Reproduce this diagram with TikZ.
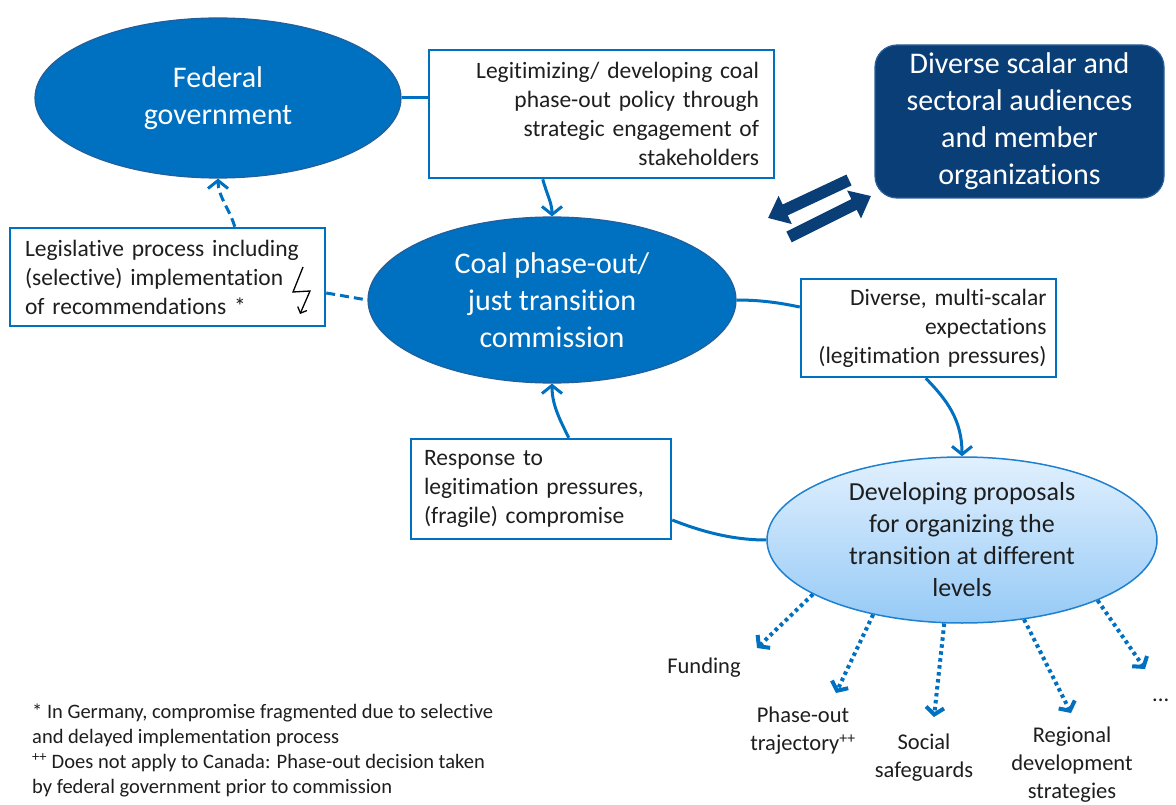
\documentclass[tikz,border=0pt]{standalone}
\usepackage{fontspec}
\setmainfont{Carlito}[RawFeature={-liga;-clig;-calt;-rlig;-dlig;-ccmp}]
\usetikzlibrary{arrows.meta,shapes.geometric,calc}
\definecolor{mblue}{RGB}{0,112,192}
\definecolor{eborder}{RGB}{35,95,155}
\definecolor{dblue}{RGB}{10,62,118}
\definecolor{dborder}{RGB}{45,95,155}
\definecolor{ltop}{RGB}{225,240,254}
\definecolor{lbot}{RGB}{150,202,246}
\definecolor{devline}{RGB}{30,128,208}
\definecolor{txt}{RGB}{30,30,30}
\newcommand\boxfont{\fontsize{23.5}{29}\selectfont}
\newcommand\ellfont{\fontsize{30}{37}\selectfont}
\newcommand\devfont{\fontsize{26}{32}\selectfont}
\newcommand\labfont{\fontsize{22.5}{28}\selectfont}
\newcommand\notefont{\fontsize{20.5}{25}\selectfont}
\begin{document}
\begin{tikzpicture}[x=1pt,y=-1pt,
  ell/.style={ellipse, fill=mblue, draw=eborder, line width=1.2pt, text=white, align=center, inner sep=0pt, font=\ellfont},
  tbox/.style={rectangle, draw=mblue, line width=2.5pt, fill=white, text=txt, inner ysep=0pt, font=\boxfont},
  darkbox/.style={rectangle, rounded corners=22pt, fill=dblue, draw=dborder, line width=1.2pt, text=white, align=center, inner sep=0pt, font=\ellfont},
  devell/.style={ellipse, top color=ltop, bottom color=lbot, draw=devline, line width=1.5pt, text=txt, align=center, inner sep=0pt, font=\devfont},
  lab/.style={text=txt, align=center, inner sep=0pt, font=\labfont},
  conn/.style={draw=mblue, line width=3pt},
  tip/.style={-{Straight Barb[length=8pt,width=20pt]}},
  dashpat/.style={dash pattern=on 9pt off 5pt},
  dotarrow/.style={draw=mblue, line width=4pt, dash pattern=on 3.5pt off 3.5pt, -{Straight Barb[length=7pt,width=18pt]}},
  bigarrow/.style={draw=dblue, line width=12pt, -{Triangle[length=19pt,width=30pt]}}
]
\fill[white] (0,0) rectangle (1176,805);
\useasboundingbox (0,0) rectangle (1176,805);

% nodes
\node[ell, minimum width=366pt, minimum height=160pt] (fed) at (218,98) {Federal\\government};
\node[tbox, minimum width=345pt, minimum height=128pt, inner xsep=15pt, text width=315pt, align=right] (legit) at (601.5,114)
  {Legitimizing/ developing coal\\phase-out policy through\\strategic engagement of\\stakeholders};
\node[darkbox, minimum width=289pt, minimum height=153pt] (aud) at (1019.5,121.5)
  {Diverse scalar and\\sectoral audiences\\and member\\organizations};
\node[tbox, minimum width=315pt, minimum height=98pt, inner xsep=15pt, text width=285pt, align=left] (leg) at (167.5,277)
  {Legislative process including\\(selective) implementation\\of recommendations *};
\node[ell, minimum width=368pt, minimum height=166pt] (coal) at (552,300) {Coal phase-out/\\just transition\\commission};
\node[tbox, minimum width=255pt, minimum height=98pt, inner xsep=9.5pt, text width=236pt, align=right] (mult) at (928.5,328)
  {Diverse, multi-scalar\\expectations\\(legitimation pressures)};
\node[tbox, minimum width=260pt, minimum height=100pt, inner xsep=13pt, text width=234pt, align=left] (resp) at (541,489)
  {Response to\\legitimation pressures,\\(fragile) compromise};
\node[devell, minimum width=390pt, minimum height=166pt] (dev) at (962,540)
  {Developing proposals\\for organizing the\\transition at different\\levels};

\node[lab] (fund) at (704,668) {Funding};
\node[lab] (traj) at (803,731) {Phase-out\\trajectory\textsuperscript{++}};
\node[lab] (soc) at (924,758) {Social\\safeguards};
\node[lab] (reg) at (1072,765) {Regional\\development\\strategies};
\node[lab, anchor=west] (more) at (1152,700) {...};

\node[anchor=north west, align=left, inner sep=0pt, text=txt, font=\notefont] (notes) at (32,704)
  {* In Germany, compromise fragmented due to selective\\
   and delayed implementation process\\
   \textsuperscript{++} Does not apply to Canada: Phase-out decision taken\\
   by federal government prior to commission};

% connectors
\draw[conn] (fed.east) -- (fed.east -| legit.west);
\draw[conn, tip] ($(legit.south west)+(115,0)$) .. controls (547,195) and (552,203) .. (coal.north);
\draw[conn, dashpat, tip] ($(leg.north west)+(226,0)$) .. controls (230,210) and (218,196) .. (fed.south);
\draw[conn, dashpat] ($(leg.east)+(0,16)$) -- (coal.west);
\draw[conn] (coal.east) .. controls (765,300) and (785,304) .. ($(mult.west)+(0,-21)$);
\draw[conn, tip] ($(mult.south west)+(126,0)$) .. controls (947,400) and (962,420) .. (dev.north);
\draw[conn, tip] ($(resp.north west)+(159,0)$) .. controls (560,420) and (552,405) .. (coal.south);
\draw[conn] ($(resp.east)+(0,31)$) .. controls (710,535) and (740,540) .. (dev.west);

% double arrows between commission area and audiences
\coordinate (a1s) at (849,180);
\coordinate (a1e) at (768,218);
\coordinate (a2s) at (789,237);
\coordinate (a2e) at (871,196);
\draw[bigarrow] (a1s) -- (a1e);
\draw[bigarrow] (a2s) -- (a2e);

% dotted arrows to topics
\coordinate (t1) at (757,648);
\coordinate (t2) at (836,693);
\coordinate (t3) at (934,717);
\coordinate (t4) at (1071,713);
\coordinate (t5) at (1145,669);
\draw[dotarrow] (dev.-160) -- (t1);
\draw[dotarrow] (dev.-140) -- (t2);
\draw[dotarrow] (dev.-102) -- (t3);
\draw[dotarrow] (dev.-52) -- (t4);
\draw[dotarrow] (dev.-24) -- (t5);

% lightning symbol
\draw[black, line width=1.3pt, line join=miter, -{Straight Barb[length=5pt,width=10pt]}] (303,267) -- (293,292) -- (310,291) -- (300,314);
\end{tikzpicture}
\end{document}
